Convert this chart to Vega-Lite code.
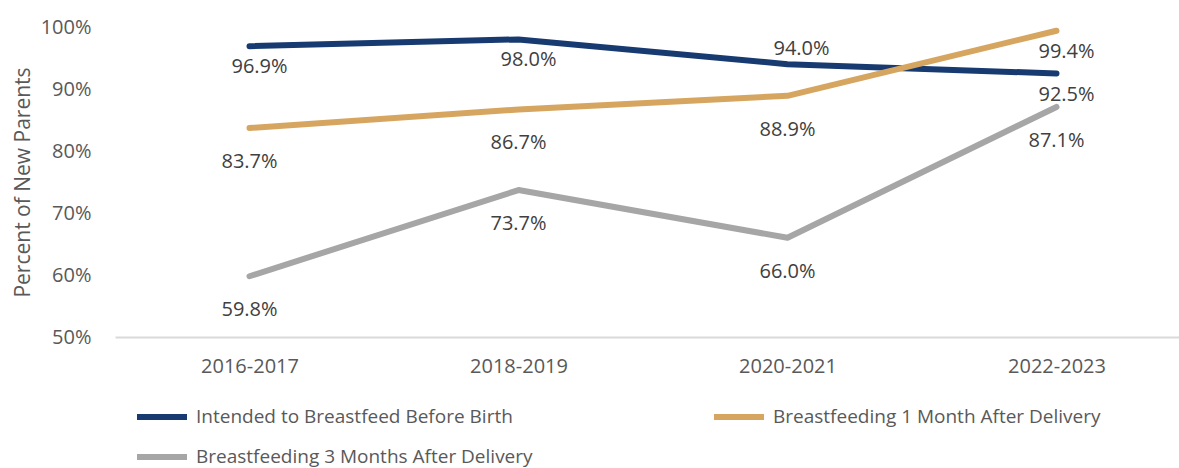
{
  "$schema": "https://vega.github.io/schema/vega-lite/v6.json",
  "autosize": "none",
  "width": 1076,
  "height": 310,
  "padding": {"left": 115, "top": 27, "right": 0, "bottom": 131},
  "background": "white",
  "config": {
    "view": {"stroke": null},
    "font": "Open Sans",
    "axis": {"labelFont": "Open Sans", "titleFont": "Open Sans", "grid": false, "ticks": false, "tickSize": 0}
  },
  "data": {
    "values": [
      {"period": "2016-2017", "series": "Intended to Breastfeed Before Birth", "value": 0.969},
      {"period": "2018-2019", "series": "Intended to Breastfeed Before Birth", "value": 0.980},
      {"period": "2020-2021", "series": "Intended to Breastfeed Before Birth", "value": 0.940},
      {"period": "2022-2023", "series": "Intended to Breastfeed Before Birth", "value": 0.925},
      {"period": "2016-2017", "series": "Breastfeeding 1 Month After Delivery", "value": 0.837},
      {"period": "2018-2019", "series": "Breastfeeding 1 Month After Delivery", "value": 0.867},
      {"period": "2020-2021", "series": "Breastfeeding 1 Month After Delivery", "value": 0.889},
      {"period": "2022-2023", "series": "Breastfeeding 1 Month After Delivery", "value": 0.994},
      {"period": "2016-2017", "series": "Breastfeeding 3 Months After Delivery", "value": 0.598},
      {"period": "2018-2019", "series": "Breastfeeding 3 Months After Delivery", "value": 0.737},
      {"period": "2020-2021", "series": "Breastfeeding 3 Months After Delivery", "value": 0.660},
      {"period": "2022-2023", "series": "Breastfeeding 3 Months After Delivery", "value": 0.871}
    ]
  },
  "encoding": {
    "x": {
      "field": "period", "type": "ordinal",
      "scale": {"type": "point", "padding": 0.5},
      "axis": {
        "title": null, "labelAngle": 0, "labelFontSize": 20, "labelColor": "#595959",
        "labelPadding": 19, "domainColor": "#D9D9D9", "domainWidth": 2
      }
    },
    "y": {
      "field": "value", "type": "quantitative",
      "scale": {"domain": [0.5, 1.0], "nice": false, "zero": false},
      "axis": {
        "title": "Percent of New Parents", "format": ".0%", "values": [0.5, 0.6, 0.7, 0.8, 0.9, 1.0],
        "domain": false, "labelFontSize": 20, "labelColor": "#595959", "labelPadding": 24,
        "titleFontSize": 21, "titleFontWeight": "normal", "titleColor": "#595959",
        "titleAngle": -90, "titleX": -92, "titleY": 155, "titleAlign": "center", "titleBaseline": "middle"
      }
    }
  },
  "layer": [
    {
      "mark": {"type": "line", "strokeWidth": 6, "strokeCap": "round", "strokeJoin": "round"},
      "encoding": {
        "color": {
          "field": "series", "type": "nominal",
          "scale": {
            "domain": ["Intended to Breastfeed Before Birth", "Breastfeeding 1 Month After Delivery", "Breastfeeding 3 Months After Delivery"],
            "range": ["#173A70", "#D6A661", "#A6A6A6"]
          },
          "legend": {
            "title": null, "orient": "none", "legendX": 19, "legendY": 362, "direction": "horizontal",
            "columns": 2, "columnPadding": 169, "rowPadding": -5, "padding": 0,
            "symbolType": "stroke", "symbolSize": 2500, "symbolStrokeWidth": 6,
            "labelFontSize": 19, "labelColor": "#595959", "labelOffset": 6, "labelLimit": 600
          }
        }
      }
    },
    {
      "transform": [{"filter": "datum.series != 'Intended to Breastfeed Before Birth' && datum.value != 0.994"}],
      "mark": {"type": "text", "fontSize": 20, "color": "#404040", "dy": 34, "baseline": "middle"},
      "encoding": {"text": {"field": "value", "type": "quantitative", "format": ".1%"}}
    },
    {
      "transform": [{"filter": "(datum.series == 'Intended to Breastfeed Before Birth' && datum.value != 0.94) || datum.value == 0.994"}],
      "mark": {"type": "text", "fontSize": 20, "color": "#404040", "dy": 21, "dx": 10, "baseline": "middle"},
      "encoding": {"text": {"field": "value", "type": "quantitative", "format": ".1%"}}
    },
    {
      "transform": [{"filter": "datum.value == 0.94"}],
      "mark": {"type": "text", "fontSize": 20, "color": "#404040", "dy": -15, "dx": 14, "baseline": "middle"},
      "encoding": {"text": {"field": "value", "type": "quantitative", "format": ".1%"}}
    }
  ]
}
